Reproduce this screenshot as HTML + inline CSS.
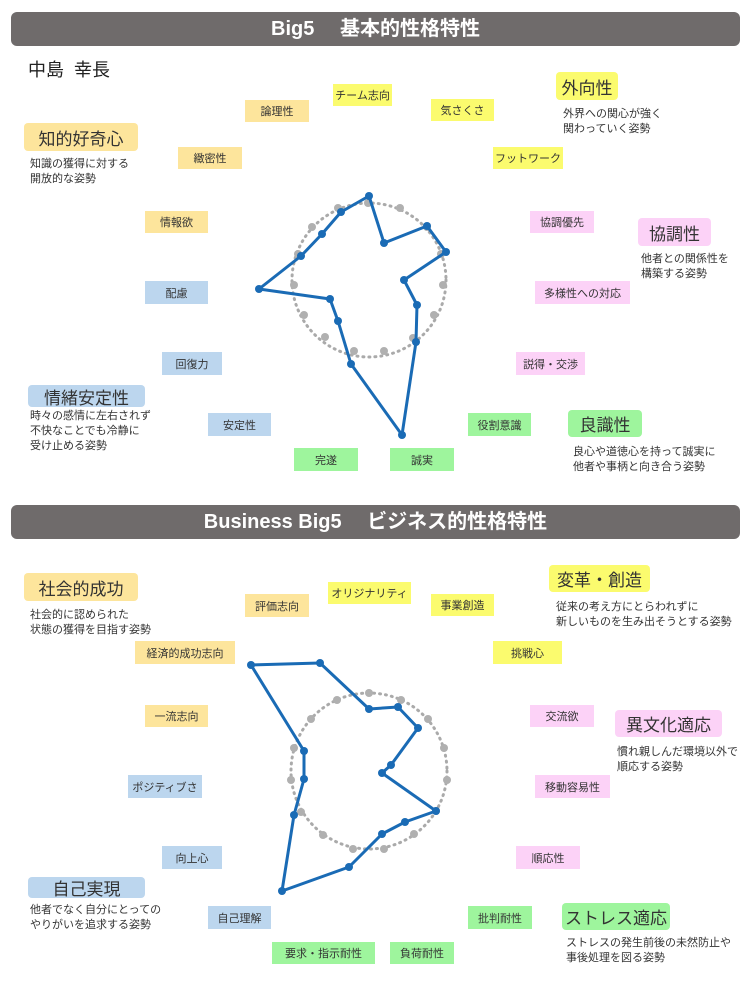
<!DOCTYPE html>
<html><head><meta charset="utf-8"><style>
body{margin:0;width:750px;height:1000px;background:#fff;position:relative;overflow:hidden;font-family:"Liberation Sans","Noto Sans CJK JP",sans-serif;color:#222}
.h{position:absolute;left:11px;width:729px;height:34px;background:#6f6b6b;border-radius:6px;color:#fff;font-size:20px;font-weight:bold;text-align:center;line-height:34px}
.b{position:absolute;font-size:11px;text-align:center;display:flex;align-items:center;justify-content:center;color:#333}
.L{position:absolute;font-size:17px;text-align:center;display:flex;align-items:center;justify-content:center;border-radius:4px;color:#333}
.d{position:absolute;font-size:11px;line-height:15px;color:#333;white-space:nowrap}
.y{background:#fbfb6e}.o{background:#fde59c}.p{background:#fcd2f7}.bl{background:#bcd6ee}.g{background:#9ef59d}
svg{position:absolute;left:0;top:0}
</style></head><body>
<div class="h" style="top:12px">Big5　 基本的性格特性</div>
<div class="h" style="top:505px">Business Big5　 ビジネス的性格特性</div>
<div style="position:absolute;left:28px;top:56px;font-size:18px">中島&nbsp; 幸長</div>

<svg width="750" height="1000">
<circle cx="369" cy="280" r="77" fill="none" stroke="#aaa" stroke-width="3" stroke-dasharray="1 5" stroke-linecap="round"/>
<g fill="#b0b0b0">
<circle cx="368" cy="203" r="4"/><circle cx="400" cy="208" r="4"/><circle cx="427" cy="227" r="4"/><circle cx="441" cy="254" r="4"/><circle cx="443" cy="285" r="4"/><circle cx="434" cy="315" r="4"/><circle cx="413" cy="338" r="4"/><circle cx="384" cy="351" r="4"/><circle cx="354" cy="351" r="4"/><circle cx="325" cy="337" r="4"/><circle cx="304" cy="315" r="4"/><circle cx="294" cy="285" r="4"/><circle cx="298" cy="254" r="4"/><circle cx="312" cy="227" r="4"/><circle cx="338" cy="208" r="4"/>
</g>
<polygon points="369,196 384,243 427,226 446,252 404,280 417,305 416,342 402,435 351,364 338,321 330,299 259,289 301,256 322,234 341,212" fill="none" stroke="#1a6bb5" stroke-width="3" stroke-linejoin="round"/>
<g fill="#1a6bb5">
<circle cx="369" cy="196" r="4"/><circle cx="384" cy="243" r="4"/><circle cx="427" cy="226" r="4"/><circle cx="446" cy="252" r="4"/><circle cx="404" cy="280" r="4"/><circle cx="417" cy="305" r="4"/><circle cx="416" cy="342" r="4"/><circle cx="402" cy="435" r="4"/><circle cx="351" cy="364" r="4"/><circle cx="338" cy="321" r="4"/><circle cx="330" cy="299" r="4"/><circle cx="259" cy="289" r="4"/><circle cx="301" cy="256" r="4"/><circle cx="322" cy="234" r="4"/><circle cx="341" cy="212" r="4"/>
</g>

<circle cx="369" cy="771" r="78" fill="none" stroke="#aaa" stroke-width="3" stroke-dasharray="1 5" stroke-linecap="round"/>
<g fill="#b0b0b0">
<circle cx="369" cy="693" r="4"/><circle cx="401" cy="700" r="4"/><circle cx="428" cy="719" r="4"/><circle cx="444" cy="748" r="4"/><circle cx="447" cy="780" r="4"/><circle cx="436" cy="811" r="4"/><circle cx="414" cy="834" r="4"/><circle cx="384" cy="849" r="4"/><circle cx="353" cy="849" r="4"/><circle cx="323" cy="835" r="4"/><circle cx="301" cy="812" r="4"/><circle cx="291" cy="780" r="4"/><circle cx="294" cy="748" r="4"/><circle cx="311" cy="719" r="4"/><circle cx="337" cy="700" r="4"/>
</g>
<polygon points="251,665 320,663 369,709 398,707 418,728 391,765 382,773 436,811 405,822 382,834 349,867 282,891 294,815 304,779 304,751" fill="none" stroke="#1a6bb5" stroke-width="3" stroke-linejoin="round"/>
<g fill="#1a6bb5">
<circle cx="251" cy="665" r="4"/><circle cx="320" cy="663" r="4"/><circle cx="369" cy="709" r="4"/><circle cx="398" cy="707" r="4"/><circle cx="418" cy="728" r="4"/><circle cx="391" cy="765" r="4"/><circle cx="382" cy="773" r="4"/><circle cx="436" cy="811" r="4"/><circle cx="405" cy="822" r="4"/><circle cx="382" cy="834" r="4"/><circle cx="349" cy="867" r="4"/><circle cx="282" cy="891" r="4"/><circle cx="294" cy="815" r="4"/><circle cx="304" cy="779" r="4"/><circle cx="304" cy="751" r="4"/>
</g>
</svg>

<!-- top -->
<div class="b y" style="left:333px;top:84px;width:59px;height:22px">チーム志向</div>
<div class="b o" style="left:245px;top:100px;width:64px;height:22px">論理性</div>
<div class="b y" style="left:431px;top:99px;width:63px;height:22px">気さくさ</div>
<div class="L y" style="left:556px;top:72px;width:62px;height:28px">外向性</div>
<div class="d" style="left:563px;top:107px">外界への関心が強く<br>関わっていく姿勢</div>
<div class="L o" style="left:24px;top:123px;width:114px;height:28px">知的好奇心</div>
<div class="d" style="left:30px;top:157px">知識の獲得に対する<br>開放的な姿勢</div>
<div class="b o" style="left:178px;top:147px;width:64px;height:22px">緻密性</div>
<div class="b y" style="left:493px;top:147px;width:70px;height:22px">フットワーク</div>
<div class="b o" style="left:145px;top:211px;width:63px;height:22px">情報欲</div>
<div class="b p" style="left:530px;top:211px;width:64px;height:22px">協調優先</div>
<div class="L p" style="left:638px;top:218px;width:73px;height:28px">協調性</div>
<div class="d" style="left:641px;top:252px">他者との関係性を<br>構築する姿勢</div>
<div class="b bl" style="left:145px;top:281px;width:63px;height:23px">配慮</div>
<div class="b p" style="left:535px;top:281px;width:95px;height:23px">多様性への対応</div>
<div class="b bl" style="left:162px;top:352px;width:60px;height:23px">回復力</div>
<div class="b p" style="left:516px;top:352px;width:69px;height:23px">説得・交渉</div>
<div class="L bl" style="left:28px;top:385px;width:117px;height:22px">情緒安定性</div>
<div class="d" style="left:30px;top:409px">時々の感情に左右されず<br>不快なことでも冷静に<br>受け止める姿勢</div>
<div class="b bl" style="left:208px;top:413px;width:63px;height:23px">安定性</div>
<div class="b g" style="left:468px;top:413px;width:63px;height:23px">役割意識</div>
<div class="L g" style="left:568px;top:410px;width:74px;height:27px">良識性</div>
<div class="d" style="left:573px;top:445px">良心や道徳心を持って誠実に<br>他者や事柄と向き合う姿勢</div>
<div class="b g" style="left:294px;top:448px;width:64px;height:23px">完遂</div>
<div class="b g" style="left:390px;top:448px;width:64px;height:23px">誠実</div>

<!-- bottom -->
<div class="b y" style="left:328px;top:582px;width:83px;height:22px">オリジナリティ</div>
<div class="b o" style="left:245px;top:594px;width:64px;height:23px">評価志向</div>
<div class="b y" style="left:431px;top:594px;width:63px;height:22px">事業創造</div>
<div class="L y" style="left:549px;top:565px;width:101px;height:27px">変革・創造</div>
<div class="d" style="left:556px;top:600px">従来の考え方にとらわれずに<br>新しいものを生み出そうとする姿勢</div>
<div class="L o" style="left:24px;top:573px;width:114px;height:28px">社会的成功</div>
<div class="d" style="left:30px;top:608px">社会的に認められた<br>状態の獲得を目指す姿勢</div>
<div class="b o" style="left:135px;top:641px;width:100px;height:23px">経済的成功志向</div>
<div class="b y" style="left:493px;top:641px;width:69px;height:23px">挑戦心</div>
<div class="b o" style="left:145px;top:705px;width:63px;height:22px">一流志向</div>
<div class="b p" style="left:530px;top:705px;width:64px;height:22px">交流欲</div>
<div class="L p" style="left:615px;top:710px;width:107px;height:27px">異文化適応</div>
<div class="d" style="left:617px;top:745px">慣れ親しんだ環境以外で<br>順応する姿勢</div>
<div class="b bl" style="left:128px;top:775px;width:74px;height:23px">ポジティブさ</div>
<div class="b p" style="left:535px;top:775px;width:75px;height:23px">移動容易性</div>
<div class="b bl" style="left:162px;top:846px;width:60px;height:23px">向上心</div>
<div class="b p" style="left:516px;top:846px;width:64px;height:23px">順応性</div>
<div class="L bl" style="left:28px;top:877px;width:117px;height:21px">自己実現</div>
<div class="d" style="left:30px;top:903px">他者でなく自分にとっての<br>やりがいを追求する姿勢</div>
<div class="b bl" style="left:208px;top:906px;width:63px;height:23px">自己理解</div>
<div class="b g" style="left:468px;top:906px;width:64px;height:23px">批判耐性</div>
<div class="L g" style="left:562px;top:903px;width:108px;height:27px">ストレス適応</div>
<div class="d" style="left:566px;top:936px">ストレスの発生前後の未然防止や<br>事後処理を図る姿勢</div>
<div class="b g" style="left:272px;top:942px;width:103px;height:22px">要求・指示耐性</div>
<div class="b g" style="left:390px;top:942px;width:64px;height:22px">負荷耐性</div>
</body></html>
